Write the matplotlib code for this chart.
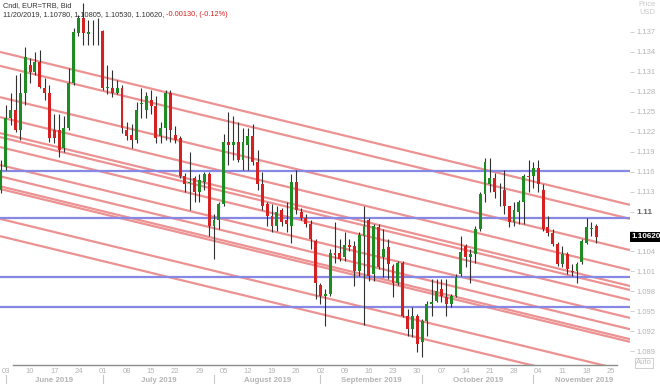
import numpy as np
import pandas as pd
import matplotlib
matplotlib.use("Agg")
import matplotlib.pyplot as plt
from matplotlib.transforms import blended_transform_factory

plt.rcParams['font.family'] = ['Liberation Sans', 'DejaVu Sans']

# EUR=TRB daily candles, 31 May 2019 .. 20 Nov 2019
opens = [1.1132, 1.1167, 1.1241, 1.1253, 1.1223, 1.1278, 1.1320, 1.1310, 1.1325, 1.1286,
         1.1278, 1.1223, 1.1223, 1.1196, 1.1226, 1.1293, 1.1369, 1.1391, 1.1367, 1.1372,
         1.1371, 1.1372, 1.1286, 1.1286, 1.1278, 1.1286, 1.1223, 1.1215, 1.1208, 1.1261,
         1.1253, 1.1268, 1.1258, 1.1213, 1.1226, 1.1278, 1.1215, 1.1211, 1.1154, 1.1143,
         1.1151, 1.1129, 1.1145, 1.1156, 1.1078, 1.1088, 1.1111, 1.1205, 1.1200, 1.1204,
         1.1178, 1.1200, 1.1213, 1.1174, 1.1141, 1.1111, 1.1093, 1.1078, 1.1103, 1.1087,
         1.1078, 1.1145, 1.1100, 1.1091, 1.1081, 1.1055, 1.0990, 1.0973, 1.0976, 1.1038,
         1.1037, 1.1031, 1.1049, 1.1048, 1.1010, 1.1063, 1.1088, 1.1006, 1.1076, 1.1031,
         1.1046, 1.1018, 1.0993, 1.1023, 1.0943, 1.0923, 1.0943, 1.0904, 1.0935, 1.0961,
         1.0965, 1.0983, 1.0971, 1.0961, 1.0973, 1.1006, 1.1048, 1.1031, 1.1036, 1.1073,
         1.1126, 1.1141, 1.1151, 1.1129, 1.1133, 1.1108, 1.1085, 1.1100, 1.1114, 1.1153,
         1.1153, 1.1166, 1.1133, 1.1076, 1.1068, 1.1051, 1.1021, 1.1036, 1.1010, 1.1010,
         1.1024, 1.1053, 1.1074, 1.1078]
highs = [1.1178, 1.1260, 1.1278, 1.1305, 1.1308, 1.1347, 1.1331, 1.1340, 1.1343, 1.1301,
         1.1290, 1.1246, 1.1246, 1.1243, 1.1316, 1.1376, 1.1396, 1.1414, 1.1388, 1.1388,
         1.1391, 1.1373, 1.1321, 1.1313, 1.1298, 1.1290, 1.1234, 1.1231, 1.1264, 1.1286,
         1.1279, 1.1283, 1.1273, 1.1235, 1.1283, 1.1283, 1.1228, 1.1213, 1.1158, 1.1190,
         1.1153, 1.1156, 1.1160, 1.1159, 1.1096, 1.1114, 1.1216, 1.1249, 1.1243, 1.1234,
         1.1225, 1.1226, 1.1231, 1.1193, 1.1160, 1.1115, 1.1111, 1.1108, 1.1106, 1.1114,
         1.1156, 1.1163, 1.1106, 1.1096, 1.1088, 1.1058, 1.0993, 1.0983, 1.1043, 1.1085,
         1.1058, 1.1069, 1.1058, 1.1055, 1.1069, 1.1108, 1.1091, 1.1081, 1.1081, 1.1073,
         1.1058, 1.1021, 1.1025, 1.1025, 1.0953, 1.0956, 1.0946, 1.0938, 1.0965, 1.0998,
         1.0998, 1.0998, 1.0998, 1.0976, 1.1006, 1.1063, 1.1051, 1.1043, 1.1078, 1.1129,
         1.1181, 1.1181, 1.1158, 1.1143, 1.1163, 1.1108, 1.1114, 1.1118, 1.1156, 1.1178,
         1.1175, 1.1178, 1.1141, 1.1093, 1.1073, 1.1054, 1.1048, 1.1039, 1.1021, 1.1024,
         1.1058, 1.1091, 1.1085, 1.10805]
lows = [1.1128, 1.1163, 1.1230, 1.1220, 1.1208, 1.1260, 1.1293, 1.1305, 1.1286, 1.1268,
        1.1205, 1.1203, 1.1182, 1.1190, 1.1223, 1.1290, 1.1364, 1.1351, 1.1351, 1.1351,
        1.1351, 1.1283, 1.1276, 1.1272, 1.1276, 1.1218, 1.1208, 1.1196, 1.1203, 1.1241,
        1.1241, 1.1246, 1.1203, 1.1203, 1.1208, 1.1205, 1.1203, 1.1151, 1.1130, 1.1103,
        1.1114, 1.1115, 1.1133, 1.1063, 1.1028, 1.1073, 1.1108, 1.1170, 1.1178, 1.1175,
        1.1163, 1.1163, 1.1170, 1.1133, 1.1103, 1.1078, 1.1069, 1.1070, 1.1078, 1.1069,
        1.1053, 1.1096, 1.1088, 1.1076, 1.1043, 1.0968, 1.0961, 1.0928, 1.0973, 1.1023,
        1.1025, 1.1025, 1.1040, 1.0988, 1.1003, 1.0930, 1.0995, 1.0995, 1.1013, 1.1001,
        1.0998, 1.0971, 1.0990, 1.0941, 1.0913, 1.0911, 1.0889, 1.0881, 1.0913, 1.0943,
        1.0964, 1.0964, 1.0943, 1.0956, 1.0971, 1.1003, 1.1016, 1.0993, 1.1023, 1.1070,
        1.1115, 1.1129, 1.1121, 1.1108, 1.1096, 1.1076, 1.1078, 1.1081, 1.1081, 1.1129,
        1.1136, 1.1129, 1.1070, 1.1063, 1.1048, 1.1018, 1.1016, 1.1006, 1.1003, 1.0993,
        1.1021, 1.1051, 1.1063, 1.1053]
closes = [1.1163, 1.1241, 1.1253, 1.1223, 1.1278, 1.1332, 1.1310, 1.1325, 1.1287, 1.1278,
          1.1211, 1.1211, 1.1193, 1.1226, 1.1293, 1.1370, 1.1391, 1.1369, 1.1370, 1.1371,
          1.1372, 1.1286, 1.1287, 1.1278, 1.1286, 1.1226, 1.1213, 1.1208, 1.1253, 1.1263,
          1.1273, 1.1258, 1.1211, 1.1226, 1.1278, 1.1223, 1.1208, 1.1153, 1.1141, 1.1144,
          1.1129, 1.1148, 1.1156, 1.1078, 1.1087, 1.1111, 1.1204, 1.1200, 1.1204, 1.1178,
          1.1204, 1.1213, 1.1174, 1.1141, 1.1108, 1.1093, 1.1078, 1.1100, 1.1085, 1.1081,
          1.1145, 1.1103, 1.1091, 1.1081, 1.1058, 1.0993, 1.0973, 1.0976, 1.1038, 1.1035,
          1.1028, 1.1050, 1.1046, 1.1010, 1.1064, 1.1078, 1.1003, 1.1078, 1.1016, 1.1043,
          1.1021, 1.0993, 1.1023, 1.0943, 1.0923, 1.0943, 1.0901, 1.0935, 1.0961, 1.0964,
          1.0980, 1.0973, 1.0961, 1.0973, 1.1001, 1.1039, 1.1031, 1.1036, 1.1073, 1.1126,
          1.1174, 1.1151, 1.1129, 1.1130, 1.1108, 1.1084, 1.1103, 1.1115, 1.1153, 1.1152,
          1.1166, 1.1141, 1.1073, 1.1068, 1.1051, 1.1021, 1.1036, 1.1013, 1.1009, 1.1021,
          1.1055, 1.1076, 1.1075, 1.1062]

# parallel down-sloping channel lines: price at left edge / right edge of the chart
trend_left = [1.1340, 1.1319, 1.1272, 1.1242, 1.1218, 1.1212, 1.1197, 1.1170, 1.1153,
              1.1138, 1.1134, 1.1089, 1.1063]
trend_right = [1.1110, 1.1089, 1.1042, 1.1012, 1.0988, 1.0982, 1.0967, 1.0940, 1.0923,
               1.0908, 1.0904, 1.0859, 1.0833]
# horizontal support / resistance levels
levels = [1.1161, 1.1090, 1.1001, 1.0957]

y_ticks = [1.137, 1.134, 1.131, 1.128, 1.125, 1.122, 1.119, 1.116, 1.113, 1.11,
           1.107, 1.104, 1.101, 1.098, 1.095, 1.092, 1.089]

GREEN = '#1e8c23'
RED = '#d42222'
PINK = '#ec9292'
BLUE = '#8787e4'
GREY = '#b4b4b4'

n = len(closes)
dates = pd.bdate_range('2019-05-31', periods=n + 11)
x = np.arange(n)
o = np.array(opens); h = np.array(highs); l = np.array(lows); c = np.array(closes)

fig = plt.figure(figsize=(6.6, 3.84), dpi=100)
ax = fig.add_axes([0, 19 / 384, 630 / 660, 365 / 384])
x0, x1 = -0.21, 129.96
ax.set_xlim(x0, x1)
ax.set_ylim(1.08692, 1.14181)

# channel + level lines
for pl, pr in zip(trend_left, trend_right):
    ax.plot([x0, x1], [pl, pr], color=PINK, lw=1.6, zorder=1, solid_capstyle='butt')
for lv in levels:
    ax.axhline(lv, color=BLUE, lw=1.6, zorder=1)

# candles
doji = np.abs(c - o) < 0.00006
body_col = np.where(doji, '#9a9a9a', np.where(c >= o, GREEN, RED))
wick_col = np.where(doji, '#a8a8a8', '#303030')
ax.vlines(x, l, h, colors=wick_col, lw=0.8, zorder=3)
ax.bar(x, np.maximum(np.abs(c - o), 0.0001), bottom=np.minimum(o, c), width=0.6,
       color=body_col, linewidth=0, zorder=4)

# axes cosmetics
for s in ['top', 'left', 'right']:
    ax.spines[s].set_visible(False)
ax.spines['bottom'].set_color('#8c8c8c')
ax.spines['bottom'].set_linewidth(1.0)
ax.spines['bottom'].set_bounds(2.4, 127.3)

ax.yaxis.tick_right()
ax.set_yticks(y_ticks)
# 1.107 sits under the last-price box in the original, so its label is left blank
ax.set_yticklabels(['' if v == 1.107 else f'{v:g}' for v in y_ticks])
ax.tick_params(axis='y', length=3, width=0.6, color='#c8c8c8', labelcolor=GREY,
               labelsize=5.5, pad=1.5)
for lab, v in zip(ax.get_yticklabels(), y_ticks):
    if v == 1.11:
        lab.set_fontweight('bold')
        lab.set_color('#666666')
        lab.set_fontsize(6)

mondays = [i for i in range(len(dates)) if dates[i].weekday() == 0 and i < x1 - 2]
ax.set_xticks(mondays)
ax.set_xticklabels([dates[i].strftime('%d') for i in mondays])
ax.tick_params(axis='x', length=0, labelcolor=GREY, labelsize=5.5, pad=2)

# month bands under the day numbers
trans = blended_transform_factory(ax.transData, ax.transAxes)
starts = [i for i in range(1, len(dates)) if dates[i].month != dates[i - 1].month]
for a, b in zip(starts[:-1], starts[1:]):
    ax.text((a + b) / 2, -0.042, dates[a].strftime('%B %Y'), transform=trans,
            ha='center', va='center', fontsize=5.7, fontweight='bold', color=GREY)
for a in starts[:-1]:
    ax.plot([a, a], [-0.027, -0.05], transform=trans, color='#c8c8c8', lw=0.8, clip_on=False)

# last price box
ytrans = blended_transform_factory(ax.transAxes, ax.transData)
ax.text(1.003, c[-1], f'{c[-1]:.5f}', transform=ytrans, ha='left', va='center',
        fontsize=5.8, fontweight='bold', color='white', zorder=10, clip_on=False,
        bbox=dict(facecolor='black', edgecolor='none', pad=1.3))

# header
HDR = 5.3
fig.text(3 / 660, 1 - 5.5 / 384, 'Cndl, EUR=TRB, Bid', va='center', fontsize=HDR, color='#333333')
chg = c[-1] - c[-2]
pct = chg / c[-2] * 100
part1 = f'{dates[n - 1]:%m/%d/%Y}, {o[-1]:.5f}, {h[-1]:.5f}, {l[-1]:.5f}, {c[-1]:.5f}, '
t1 = fig.text(3 / 660, 1 - 15 / 384, part1, va='center', fontsize=HDR, color='#333333')
fig.canvas.draw()
bb = t1.get_window_extent(renderer=fig.canvas.get_renderer())
fig.text(bb.x1 / fig.bbox.width, 1 - 15 / 384, f'{chg:.5f}, ({pct:.2f}%)', va='center',
         fontsize=HDR, color=RED)

fig.text(647 / 660, 1 - 4 / 384, 'Price', ha='center', va='center', fontsize=5.4, color='#c8c8c8')
fig.text(647 / 660, 1 - 12 / 384, 'USD', ha='center', va='center', fontsize=5.4, color='#c8c8c8')
fig.text(644 / 660, 1 - 363 / 384, 'Auto', ha='center', va='center', fontsize=5.5, color='#bcbcbc',
         bbox=dict(facecolor='white', edgecolor='#c8c8c8', lw=0.6, pad=0.8))

fig.savefig('out.png', dpi=100, facecolor='white')
